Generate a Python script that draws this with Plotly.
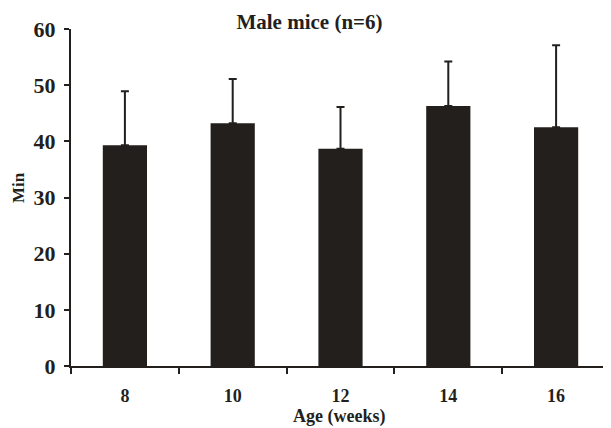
import plotly.graph_objects as go

ages = ["8", "10", "12", "14", "16"]
minutes = [39.3, 43.2, 38.7, 46.3, 42.5]
sd_upper = [9.6, 7.9, 7.4, 7.9, 14.6]
y_ticks = [0, 10, 20, 30, 40, 50, 60]

DARK = "#231f1c"
FONT = "Liberation Serif"

# the page body has an 8px margin, so the figure is 8px smaller than the window
W, H = 603, 420

fig = go.Figure(
    go.Bar(
        x=ages,
        y=minutes,
        width=0.41,
        marker=dict(color=DARK, line=dict(width=0)),
        error_y=dict(type="data", symmetric=False, array=sd_upper,
                     arrayminus=[0] * len(ages), color=DARK,
                     thickness=2, width=4),
    )
)

fig.update_layout(
    width=W, height=H,
    margin=dict(l=63, r=1, t=21, b=62),
    plot_bgcolor="white", paper_bgcolor="white",
    showlegend=False,
    font=dict(family=FONT, color=DARK, weight="bold"),
    title=dict(text="Male mice (n=6)", x=0.5, xanchor="center",
               y=1 - 14 / H, yanchor="middle",
               font=dict(family=FONT, size=21, color=DARK, weight="bold")),
    xaxis=dict(type="category", range=[-0.5, 4.5],
               showline=True, linecolor=DARK, linewidth=2,
               ticks="outside", tickson="boundaries", ticklen=6,
               tickwidth=2, tickcolor=DARK, showgrid=False,
               ticklabelstandoff=12,
               tickfont=dict(family=FONT, size=18, color=DARK, weight="bold")),
    yaxis=dict(range=[0, 60], tickvals=y_ticks,
               showline=True, linecolor=DARK, linewidth=2,
               ticks="outside", ticklen=5, tickwidth=2, tickcolor=DARK,
               showgrid=False, zeroline=False, ticklabelstandoff=4,
               tickfont=dict(family=FONT, size=22, color=DARK, weight="bold")),
    annotations=[
        dict(text="Age (weeks)", xref="paper", yref="paper",
             x=0.5 - 2 / 539, y=(366 - 416) / 337, xanchor="center",
             yanchor="middle", showarrow=False,
             font=dict(family=FONT, size=18, color=DARK, weight="bold")),
        dict(text="Min", xref="paper", yref="paper",
             x=(18 - 71) / 539, y=(366 - 188) / 337, xanchor="center",
             yanchor="middle", textangle=-90, showarrow=False,
             font=dict(family=FONT, size=17, color=DARK, weight="bold")),
    ],
)

fig.write_html("out.html")
